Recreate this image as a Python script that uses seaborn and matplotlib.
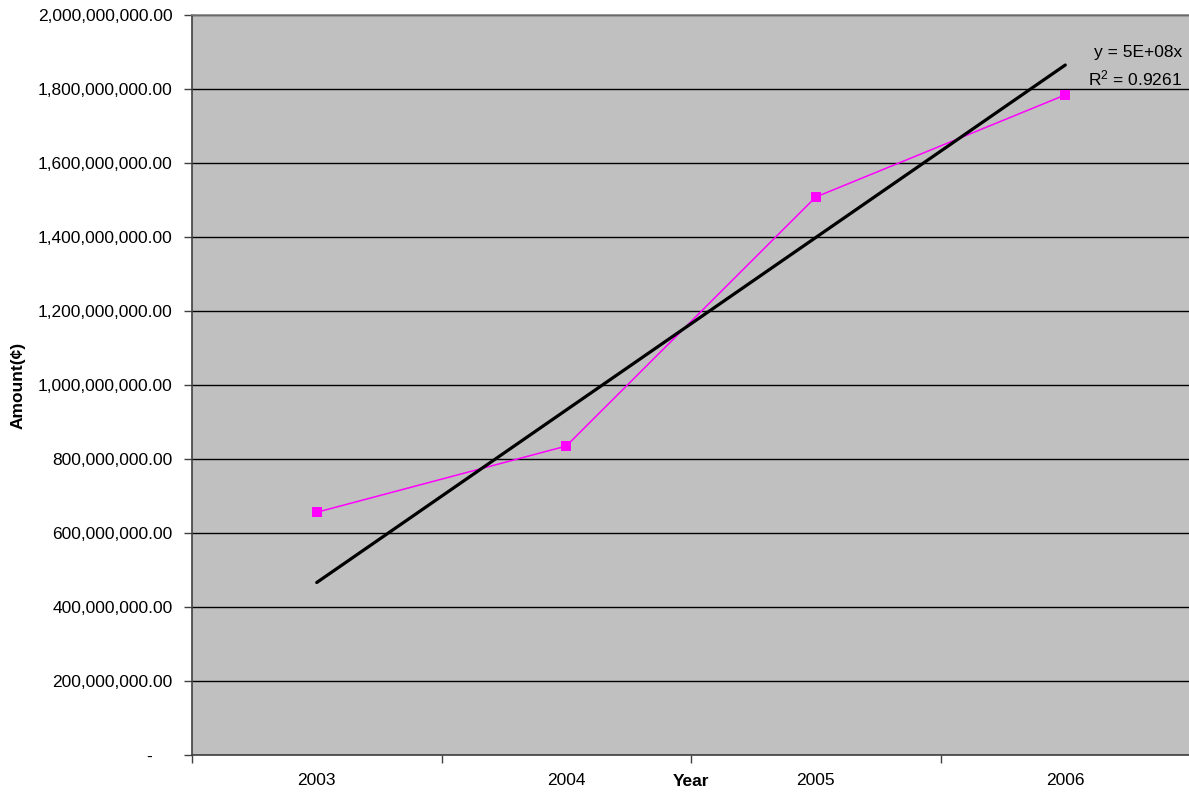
import numpy as np
import pandas as pd
import matplotlib
matplotlib.use("Agg")
import matplotlib.pyplot as plt
from matplotlib.ticker import FuncFormatter, FixedLocator
import seaborn as sns

# Annual amounts
years = ["2003", "2004", "2005", "2006"]
amounts = [656_000_000, 835_000_000, 1_508_000_000, 1_784_000_000]
equation_text = "y = 5E+08x"
r2_text = "R$^2$ = 0.9261"

sns.set_theme(style="white")
plt.rcParams["font.family"] = ["Liberation Sans", "DejaVu Sans"]
plt.rcParams["text.color"] = "black"
plt.rcParams["axes.labelcolor"] = "black"
plt.rcParams["mathtext.default"] = "regular"

FS = 12.5

pos = np.arange(1, len(years) + 1)
df = pd.DataFrame({"pos": pos, "amount": amounts})

fig = plt.figure(figsize=(11.89, 7.92), dpi=100)
W, H = 1189, 792
left, right, top, bottom = 192, 1190, 15, 755
ax = fig.add_axes([left / W, 1 - bottom / H, (right - left) / W, (bottom - top) / H])
ax.set_facecolor("#C0C0C0")

# Linear trend forced through the origin
slope = np.sum(pos * np.array(amounts)) / np.sum(pos ** 2)
trend = pd.DataFrame({"pos": [pos[0], pos[-1]], "amount": slope * np.array([pos[0], pos[-1]])})

sns.lineplot(data=df, x="pos", y="amount", ax=ax, color="#FF00FF", linewidth=1.1,
             marker="s", markersize=7.5, markeredgewidth=0, zorder=3)
sns.lineplot(data=trend, x="pos", y="amount", ax=ax, color="black", linewidth=2.3, zorder=4)

ax.set_xlim(0.5, len(years) + 0.5)
ax.set_ylim(0, 2_000_000_000)
ax.yaxis.set_major_locator(FixedLocator(np.arange(0, 2_000_000_001, 200_000_000)))
ax.yaxis.set_major_formatter(FuncFormatter(lambda v, p: "-    " if v == 0 else f"{v:,.2f}"))
ax.grid(axis="y", color="black", linewidth=1.0)
ax.set_axisbelow(True)

# Category boundaries as major ticks, labels at category centres
ax.xaxis.set_major_locator(FixedLocator(np.arange(0.5, len(years) + 1, 1.0)))
ax.xaxis.set_major_formatter(FuncFormatter(lambda v, p: ""))
ax.set_xticks(pos, years, minor=True)
ax.tick_params(axis="x", which="major", direction="out", length=6, width=1, color="#404040", bottom=True)
ax.tick_params(axis="x", which="minor", length=0, pad=13, labelsize=FS, labelcolor="black")
ax.tick_params(axis="y", direction="out", length=6, width=1, color="#404040", left=True,
               pad=8, labelsize=FS, labelcolor="black")

for side in ["left", "bottom"]:
    ax.spines[side].set_color("#404040")
    ax.spines[side].set_linewidth(1.2)
ax.spines["top"].set_color("#808080")
ax.spines["top"].set_linewidth(1.2)
ax.spines["right"].set_visible(False)

ax.set_xlabel("Year", fontsize=FS, fontweight="bold")
ax.xaxis.set_label_coords(0.5, -0.0355)
ax.xaxis.label.set_va("center")
ax.set_ylabel("Amount(¢)", fontsize=FS, fontweight="bold")
ax.yaxis.set_label_coords(-0.174, 0.5)
ax.yaxis.label.set_va("center")

ax.text(0.9925, 0.950, equation_text, transform=ax.transAxes, ha="right", va="center", fontsize=FS)
ax.text(0.9925, 0.914, r2_text, transform=ax.transAxes, ha="right", va="center", fontsize=FS)

fig.savefig("out.png", dpi=100)
